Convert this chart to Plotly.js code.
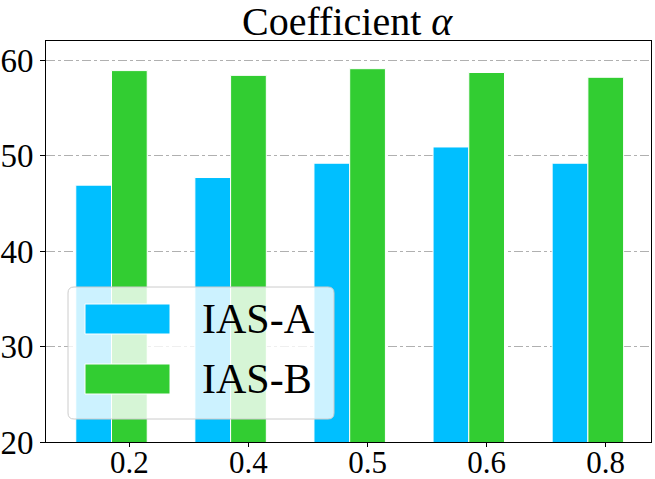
<!DOCTYPE html>
<html>
<head>
<meta charset="utf-8">
<script src="https://cdn.plot.ly/plotly-3.0.1.min.js"></script>
<style>
  html, body { margin: 0; padding: 0; background: #fff; }
  #chart { width: 655px; height: 479px; }
</style>
</head>
<body>
<div id="chart"></div>
<script>
/* global Plotly */
const categories = ["0.2", "0.4", "0.5", "0.6", "0.8"];
const seriesNames = ["IAS-A", "IAS-B"];
const iasA = [46.9, 47.7, 49.2, 50.9, 49.2];
const iasB = [58.9, 58.4, 59.1, 58.7, 58.2];
const yTicks = [20, 30, 40, 50, 60];
const colors = ["#00BFFF", "#32CD32"];

const SERIF = "Liberation Serif";
const W = 655;
const H = 479;
const margin = { l: 46, r: 4, t: 41, b: 37 };
const plotW = W - margin.l - margin.r;
const plotH = H - margin.t - margin.b;

// pixel -> paper helpers for the hand-built legend
const px = (x) => (x - margin.l) / plotW;
const py = (y) => (H - margin.b - y) / plotH;

function roundRect(x0, y0, x1, y1, r) {
  return (
    `M${px(x0 + r)},${py(y0)} L${px(x1 - r)},${py(y0)} ` +
    `Q${px(x1)},${py(y0)} ${px(x1)},${py(y0 + r)} ` +
    `L${px(x1)},${py(y1 - r)} Q${px(x1)},${py(y1)} ${px(x1 - r)},${py(y1)} ` +
    `L${px(x0 + r)},${py(y1)} Q${px(x0)},${py(y1)} ${px(x0)},${py(y1 - r)} ` +
    `L${px(x0)},${py(y0 + r)} Q${px(x0)},${py(y0)} ${px(x0 + r)},${py(y0)} Z`
  );
}

function barTrace(values, i, offset) {
  return {
    type: "bar",
    x: categories,
    y: values,
    name: seriesNames[i],
    offset: offset,
    width: 0.3,
    marker: { color: colors[i], line: { color: "white", width: 1 } },
    showlegend: false,
  };
}

const data = [barTrace(iasA, 0, -0.45), barTrace(iasB, 1, -0.15)];

const legendRows = [319, 379];
const shapes = [
  {
    type: "path",
    xref: "paper",
    yref: "paper",
    path: roundRect(68, 287, 334, 419, 6),
    fillcolor: "rgba(255,255,255,0.8)",
    line: { color: "#cccccc", width: 1 },
    layer: "above",
  },
];
const annotations = [];
seriesNames.forEach((name, i) => {
  const cy = legendRows[i];
  shapes.push({
    type: "rect",
    xref: "paper",
    yref: "paper",
    x0: px(85),
    x1: px(170),
    y0: py(cy + 15),
    y1: py(cy - 15),
    fillcolor: colors[i],
    line: { color: "white", width: 1 },
    layer: "above",
  });
  annotations.push({
    xref: "paper",
    yref: "paper",
    x: px(200),
    y: py(cy),
    xanchor: "left",
    yanchor: "middle",
    showarrow: false,
    text: name,
    font: { family: SERIF, size: 42, color: "black" },
  });
});

const layout = {
  width: W,
  height: H,
  margin: { ...margin, pad: 0 },
  paper_bgcolor: "white",
  plot_bgcolor: "white",
  font: { family: SERIF, color: "black" },
  title: {
    text: "Coefficient <i>α</i>",
    font: { family: SERIF, size: 40, color: "black" },
    x: 0.53,
    xanchor: "center",
    y: 0.957,
    yanchor: "middle",
  },
  barmode: "overlay",
  xaxis: {
    type: "category",
    range: [-0.7, 4.38],
    showline: true,
    mirror: true,
    linecolor: "black",
    linewidth: 1,
    ticks: "outside",
    ticklen: 4,
    tickcolor: "black",
    ticklabelstandoff: -11,
    tickfont: { family: SERIF, size: 31, color: "black" },
    showgrid: false,
    zeroline: false,
  },
  yaxis: {
    range: [20, 62],
    tickvals: yTicks,
    showline: true,
    mirror: true,
    linecolor: "black",
    linewidth: 1,
    ticks: "outside",
    ticklen: 5,
    tickcolor: "black",
    tickfont: { family: SERIF, size: 33, color: "black" },
    showgrid: true,
    gridcolor: "#b0b0b0",
    griddash: "dashdot",
    gridwidth: 1,
    zeroline: false,
  },
  shapes: shapes,
  annotations: annotations,
  showlegend: false,
};

Plotly.newPlot("chart", data, layout, { displayModeBar: false, staticPlot: true });
</script>
</body>
</html>
